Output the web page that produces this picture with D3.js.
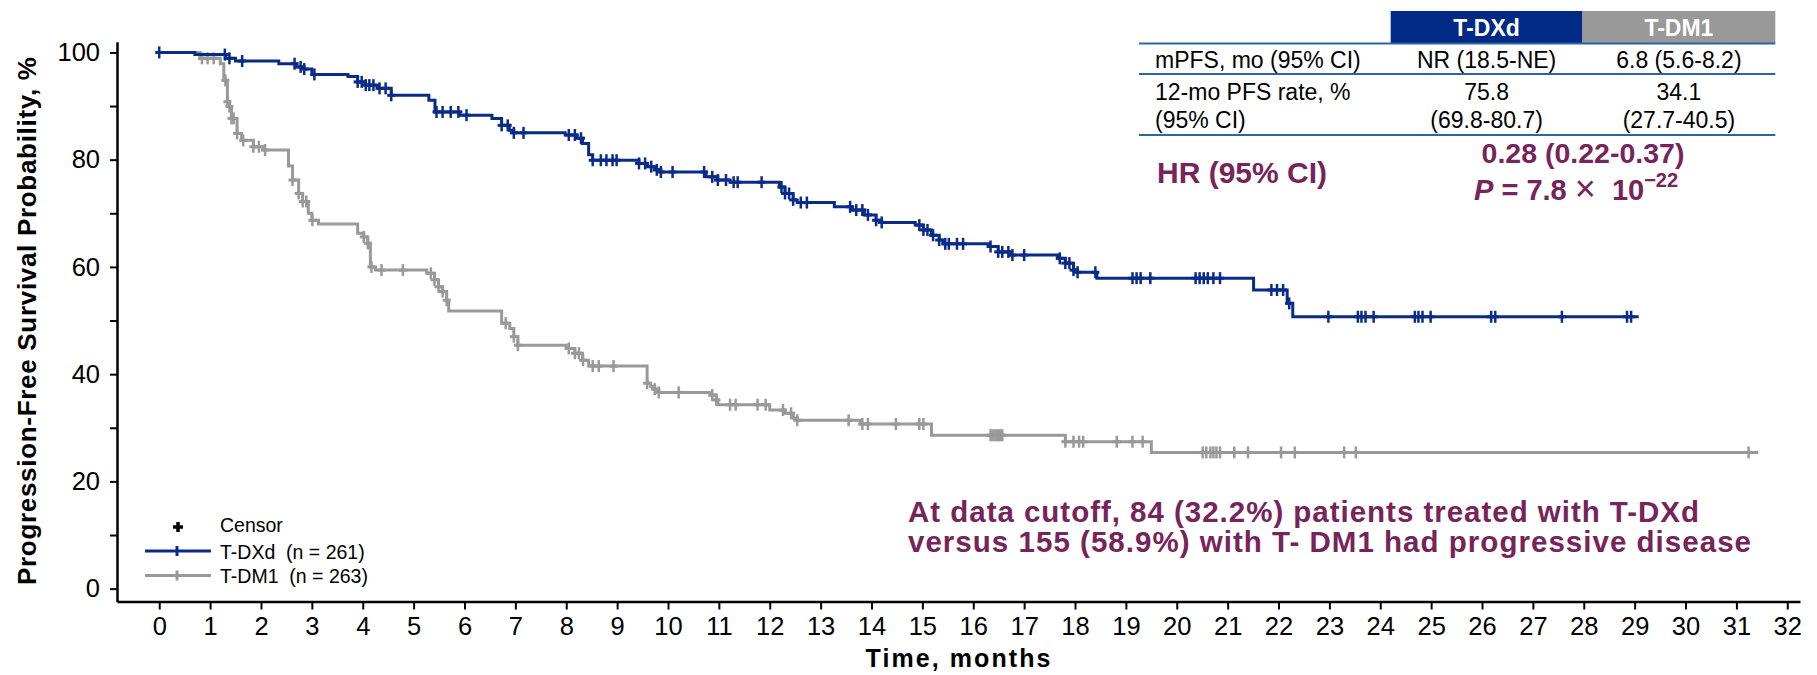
<!DOCTYPE html>
<html>
<head>
<meta charset="utf-8">
<script src="https://cdn.jsdelivr.net/npm/d3@7"></script>
<style>
  body { margin: 0; background: #fff; }
  text { font-family: "Liberation Sans", Arial, sans-serif; white-space: pre; }
</style>
</head>
<body>
<svg id="chart" width="1817" height="675"></svg>
<script>
  // axis ticks
  const xTicks = d3.range(0, 33)
  const yTicks = [0, 10, 20, 30, 40, 50, 60, 70, 80, 90, 100]

  // T-DXd: step times (months) and survival after each step (%)
  const tdxdTimes = [0, 0.7, 1.3, 1.5, 2.35, 2.7, 2.85, 3.0, 3.71, 3.9, 4.05, 4.3, 4.56, 5.3, 5.42, 5.9, 6.54, 6.73, 6.88, 6.97,
    7.98, 8.2, 8.32, 8.44, 8.52, 9.43, 9.59, 9.74, 9.86, 10.75, 10.98, 11.22, 12.19, 12.3, 12.46, 12.54, 13.27, 13.62, 13.86,
    14.09, 14.2, 14.86, 15.02, 15.18, 15.33, 15.41, 16.3, 16.49, 16.73, 17.66, 17.81, 17.97, 18.05, 18.43, 21.51, 22.17, 22.28]
  const tdxdSurv = [100, 99.6, 98.9, 98.4, 97.9, 97.3, 96.9, 95.9, 95.5, 94.5, 93.9, 93.3, 92.0, 91.1, 88.9, 88.3, 87.7, 86.4, 85.5, 85.0,
    84.6, 84.0, 83.0, 80.9, 79.9, 79.3, 78.7, 78.1, 77.7, 76.8, 76.2, 75.8, 74.9, 73.7, 72.5, 72.0, 71.2, 70.6, 69.7,
    68.7, 68.3, 67.8, 66.9, 65.9, 65.0, 64.3, 63.8, 62.8, 62.2, 61.6, 60.7, 59.4, 59.0, 57.9, 55.7, 53.2, 50.7]
  const tdxdEnd = 29.08
  const tdxdCensor = [0.0, 1.29, 1.38, 1.63, 2.66, 2.78, 2.85, 3.05, 3.9, 3.98, 4.06, 4.13, 4.21, 4.33, 4.45, 4.56, 5.45, 5.57, 5.73,
    5.88, 6.04, 6.73, 6.85, 6.97, 7.16, 8.05, 8.17, 8.29, 8.52, 8.68, 8.79, 8.91, 8.99, 9.43, 9.55, 9.67, 9.78, 9.86, 10.09,
    10.71, 10.87, 10.98, 11.14, 11.29, 11.37, 11.84, 12.23, 12.3, 12.38, 12.46, 12.61, 12.73, 13.58, 13.7, 13.82, 13.93, 14.09,
    14.2, 14.94, 15.02, 15.1, 15.21, 15.33, 15.45, 15.52, 15.68, 15.8, 16.34, 16.49, 16.57, 16.69, 16.77, 17.0, 17.7, 17.81,
    17.89, 17.97, 18.05, 18.4, 19.13, 19.21, 19.29, 19.48, 20.37, 20.45, 20.53, 20.61, 20.72, 20.85, 21.86, 21.97, 22.09, 22.21,
    22.98, 23.56, 23.63, 23.71, 23.87, 24.68, 24.75, 24.83, 24.99, 26.18, 26.26, 27.57, 28.85, 28.93]

  // T-DM1
  const tdm1Times = [0, 0.8, 1.2, 1.27, 1.34, 1.38, 1.42, 1.53, 1.62, 1.85, 2.05, 2.54, 2.62, 2.74, 2.82, 2.93, 3.0, 3.13, 3.9, 4.02,
    4.1, 4.15, 4.25, 5.26, 5.41, 5.49, 5.57, 5.65, 5.69, 6.73, 6.89, 6.97, 7.05, 8.0, 8.17, 8.32, 8.44, 9.59, 9.66, 9.74, 9.82,
    10.83, 10.95, 10.98, 12.0, 12.3, 12.46, 12.54, 13.78, 15.18, 17.81, 19.5]
  const tdm1Surv = [100, 98.9, 97.9, 94.8, 90.8, 89.9, 87.7, 84.9, 83.6, 82.4, 81.8, 78.8, 76.2, 73.7, 72.2, 70.0, 68.7, 68.0, 66.3, 65.6,
    64.4, 60.0, 59.4, 58.8, 57.6, 56.3, 55.4, 53.8, 51.8, 49.5, 48.5, 47.0, 45.4, 44.8, 43.9, 42.6, 41.5, 38.3, 37.7, 37.2, 36.6,
    36.1, 35.2, 34.3, 33.3, 32.7, 31.8, 31.4, 30.7, 28.6, 27.4, 25.4]
  const tdm1End = 31.43
  const tdm1Censor = [0.84, 0.95, 1.07, 1.3, 1.34, 1.38, 1.42, 1.46, 1.53, 1.65, 1.85, 1.96, 2.08, 2.62, 2.74, 2.82, 2.89, 3.01, 4.02,
    4.1, 4.17, 4.37, 4.79, 5.34, 5.41, 5.49, 5.57, 5.65, 6.81, 6.97, 7.05, 8.05, 8.17, 8.25, 8.33, 8.52, 8.64, 8.93, 9.59, 9.74,
    9.82, 10.21, 10.87, 10.95, 11.22, 11.33, 11.76, 11.92, 12.26, 12.42, 12.54, 13.55, 13.82, 13.93, 14.48, 14.94, 15.02, 16.34,
    16.38, 16.42, 16.46, 16.49, 16.53, 16.57, 17.81, 17.97, 18.08, 18.16, 18.82, 19.13, 19.33, 20.51, 20.58, 20.66, 20.72, 20.78,
    20.85, 21.13, 21.4, 22.05, 22.32, 23.29, 23.52, 31.24]

  // summary table
  const tableHeads = ['T-DXd', 'T-DM1']
  const tableLabels = [['mPFS, mo (95% CI)'], ['12-mo PFS rate, %', '(95% CI)']]
  const tableTDXd = [['NR (18.5-NE)'], ['75.8', '(69.8-80.7)']]
  const tableTDM1 = [['6.8 (5.6-8.2)'], ['34.1', '(27.7-40.5)']]
  const hrLabel = 'HR (95% CI)'
  const hrValue = '0.28 (0.22-0.37)'
  const pMantissa = '7.8'
  const pExponent = '\u221222'
  const legendItems = ['T-DXd  (n = 261)', 'T-DM1  (n = 263)']
  const noteLines = ['At data cutoff, 84 (32.2%) patients treated with T-DXd',
    'versus 155 (58.9%) with T- DM1 had progressive disease']

  const navy = '#0a2b88'
  const grey = '#999999'
  const purple = '#77245a'
  const rule = '#2d659e'

  const svg = d3.select('#chart')
  svg.append('rect').attr('width', 1817).attr('height', 675).attr('fill', '#fff')

  const x = d3.scaleLinear().domain([-0.83, 32.25]).range([117, 1800])
  const y = d3.scaleLinear().domain([-2.4, 102]).range([601.5, 41.7])

  // axes
  const xAxis = svg.append('g').attr('transform', 'translate(0,601.5)')
    .call(d3.axisBottom(x).tickValues(xTicks).tickSize(8).tickPadding(7).tickSizeOuter(0))
  const yAxis = svg.append('g').attr('transform', 'translate(117,0)')
    .call(d3.axisLeft(y).tickValues(yTicks).tickSize(7).tickPadding(10).tickSizeOuter(0)
      .tickFormat(d => d % 20 === 0 ? d : ''))
  for (const g of [xAxis, yAxis]) {
    g.select('.domain').attr('stroke', '#000').attr('stroke-width', 2.5)
    g.selectAll('.tick line').attr('stroke', '#000').attr('stroke-width', 2)
    g.selectAll('.tick text').attr('fill', '#000').style('font-size', '25.5px')
      .style('font-family', '"Liberation Sans", Arial, sans-serif')
  }

  svg.append('text').attr('x', 958).attr('y', 667).attr('text-anchor', 'middle')
    .attr('font-weight', 'bold').attr('font-size', 25).attr('textLength', 185)
    .text('Time, months')
  svg.append('text').attr('transform', 'translate(36,321) rotate(-90)').attr('text-anchor', 'middle')
    .attr('font-weight', 'bold').attr('font-size', 26).attr('textLength', 528)
    .text('Progression-Free Survival Probability, %')

  // KM curves
  function stepPoints(times, surv, end) {
    const pts = times.map((t, i) => [t, surv[i]])
    pts.push([end, surv[surv.length - 1]])
    return pts
  }
  function survAt(times, surv, t) {
    const i = d3.bisectRight(times, t) - 1
    return surv[Math.max(i, 0)]
  }
  const line = d3.line().x(d => x(d[0])).y(d => y(d[1])).curve(d3.curveStepAfter)

  const series = [
    { times: tdm1Times, surv: tdm1Surv, end: tdm1End, censor: tdm1Censor, color: grey },
    { times: tdxdTimes, surv: tdxdSurv, end: tdxdEnd, censor: tdxdCensor, color: navy }
  ]
  series.forEach(s => {
    svg.append('path').datum(stepPoints(s.times, s.surv, s.end))
      .attr('fill', 'none').attr('stroke', s.color).attr('stroke-width', 3).attr('d', line)
    const c = svg.append('g').selectAll('g').data(s.censor).join('g')
      .attr('transform', t => `translate(${x(t)},${y(survAt(s.times, s.surv, t))})`)
    c.append('line').attr('y1', -6).attr('y2', 6).attr('stroke', s.color).attr('stroke-width', 2.5)
    c.append('line').attr('x1', -4).attr('x2', 4).attr('stroke', s.color).attr('stroke-width', 3)
  })

  // legend
  const lg = svg.append('g')
  const plus = lg.append('g').attr('transform', 'translate(178,527)')
  plus.append('line').attr('y1', -5).attr('y2', 5).attr('stroke', '#000').attr('stroke-width', 3.5)
  plus.append('line').attr('x1', -5).attr('x2', 5).attr('stroke', '#000').attr('stroke-width', 3.5)
  lg.append('text').attr('x', 220).attr('y', 532).attr('font-size', 19.5).text('Censor')
  legendItems.forEach((label, i) => {
    const ly = 551 + i * 24.5
    const col = i === 0 ? navy : grey
    lg.append('line').attr('x1', 145).attr('x2', 211).attr('y1', ly).attr('y2', ly)
      .attr('stroke', col).attr('stroke-width', 3)
    lg.append('line').attr('x1', 177).attr('x2', 177).attr('y1', ly - 5).attr('y2', ly + 5)
      .attr('stroke', col).attr('stroke-width', 3)
    lg.append('text').attr('x', 220).attr('y', ly + 7.5).attr('font-size', 19.5).text(label)
  })

  // summary table
  const tb = svg.append('g')
  const colX = [1390.7, 1582.5, 1775.3]
  tableHeads.forEach((h, i) => {
    tb.append('rect').attr('x', colX[i]).attr('y', 11).attr('width', colX[i + 1] - colX[i]).attr('height', 32)
      .attr('fill', i === 0 ? '#002a86' : grey)
    tb.append('text').attr('x', (colX[i] + colX[i + 1]) / 2).attr('y', 36).attr('text-anchor', 'middle')
      .attr('fill', '#fff').attr('font-weight', 'bold').attr('font-size', 23).text(h)
  })
  for (const ry of [43.5, 74, 135]) {
    tb.append('line').attr('x1', 1139).attr('x2', 1775.3).attr('y1', ry).attr('y2', ry)
      .attr('stroke', rule).attr('stroke-width', 2)
  }
  const rowBase = [[68.3], [100, 128.3]]
  tableLabels.forEach((rows, r) => rows.forEach((t, k) => {
    tb.append('text').attr('x', 1155).attr('y', rowBase[r][k]).attr('font-size', 23).text(t)
  }))
  ;[tableTDXd, tableTDM1].forEach((col, c) => col.forEach((rows, r) => rows.forEach((t, k) => {
    tb.append('text').attr('x', (colX[c] + colX[c + 1]) / 2).attr('y', rowBase[r][k])
      .attr('text-anchor', 'middle').attr('font-size', 23).text(t)
  })))
  tb.append('text').attr('x', 1157).attr('y', 183).attr('fill', purple).attr('font-weight', 'bold')
    .attr('font-size', 30).text(hrLabel)
  tb.append('text').attr('x', 1583).attr('y', 163).attr('text-anchor', 'middle').attr('fill', purple)
    .attr('font-weight', 'bold').attr('font-size', 28.5).text(hrValue)
  const pt = tb.append('text').attr('x', 1474).attr('y', 200).attr('fill', purple)
    .attr('font-weight', 'bold').attr('font-size', 29)
  pt.append('tspan').attr('font-style', 'italic').text('P')
  pt.append('tspan').text(` = ${pMantissa} `)
  pt.append('tspan').attr('font-weight', 'normal').attr('font-size', 36).attr('dy', 1).text('\u00d7')
  pt.append('tspan').attr('dy', -1).text('  10')
  pt.append('tspan').attr('dy', -13).attr('font-size', 20).text(pExponent)

  // note
  noteLines.forEach((t, i) => {
    svg.append('text').attr('x', 908).attr('y', 522 + i * 30).attr('fill', purple)
      .attr('font-weight', 'bold').attr('font-size', 29.5).attr('textLength', i === 0 ? 791 : 843)
      .text(t)
  })
</script>
</body>
</html>
